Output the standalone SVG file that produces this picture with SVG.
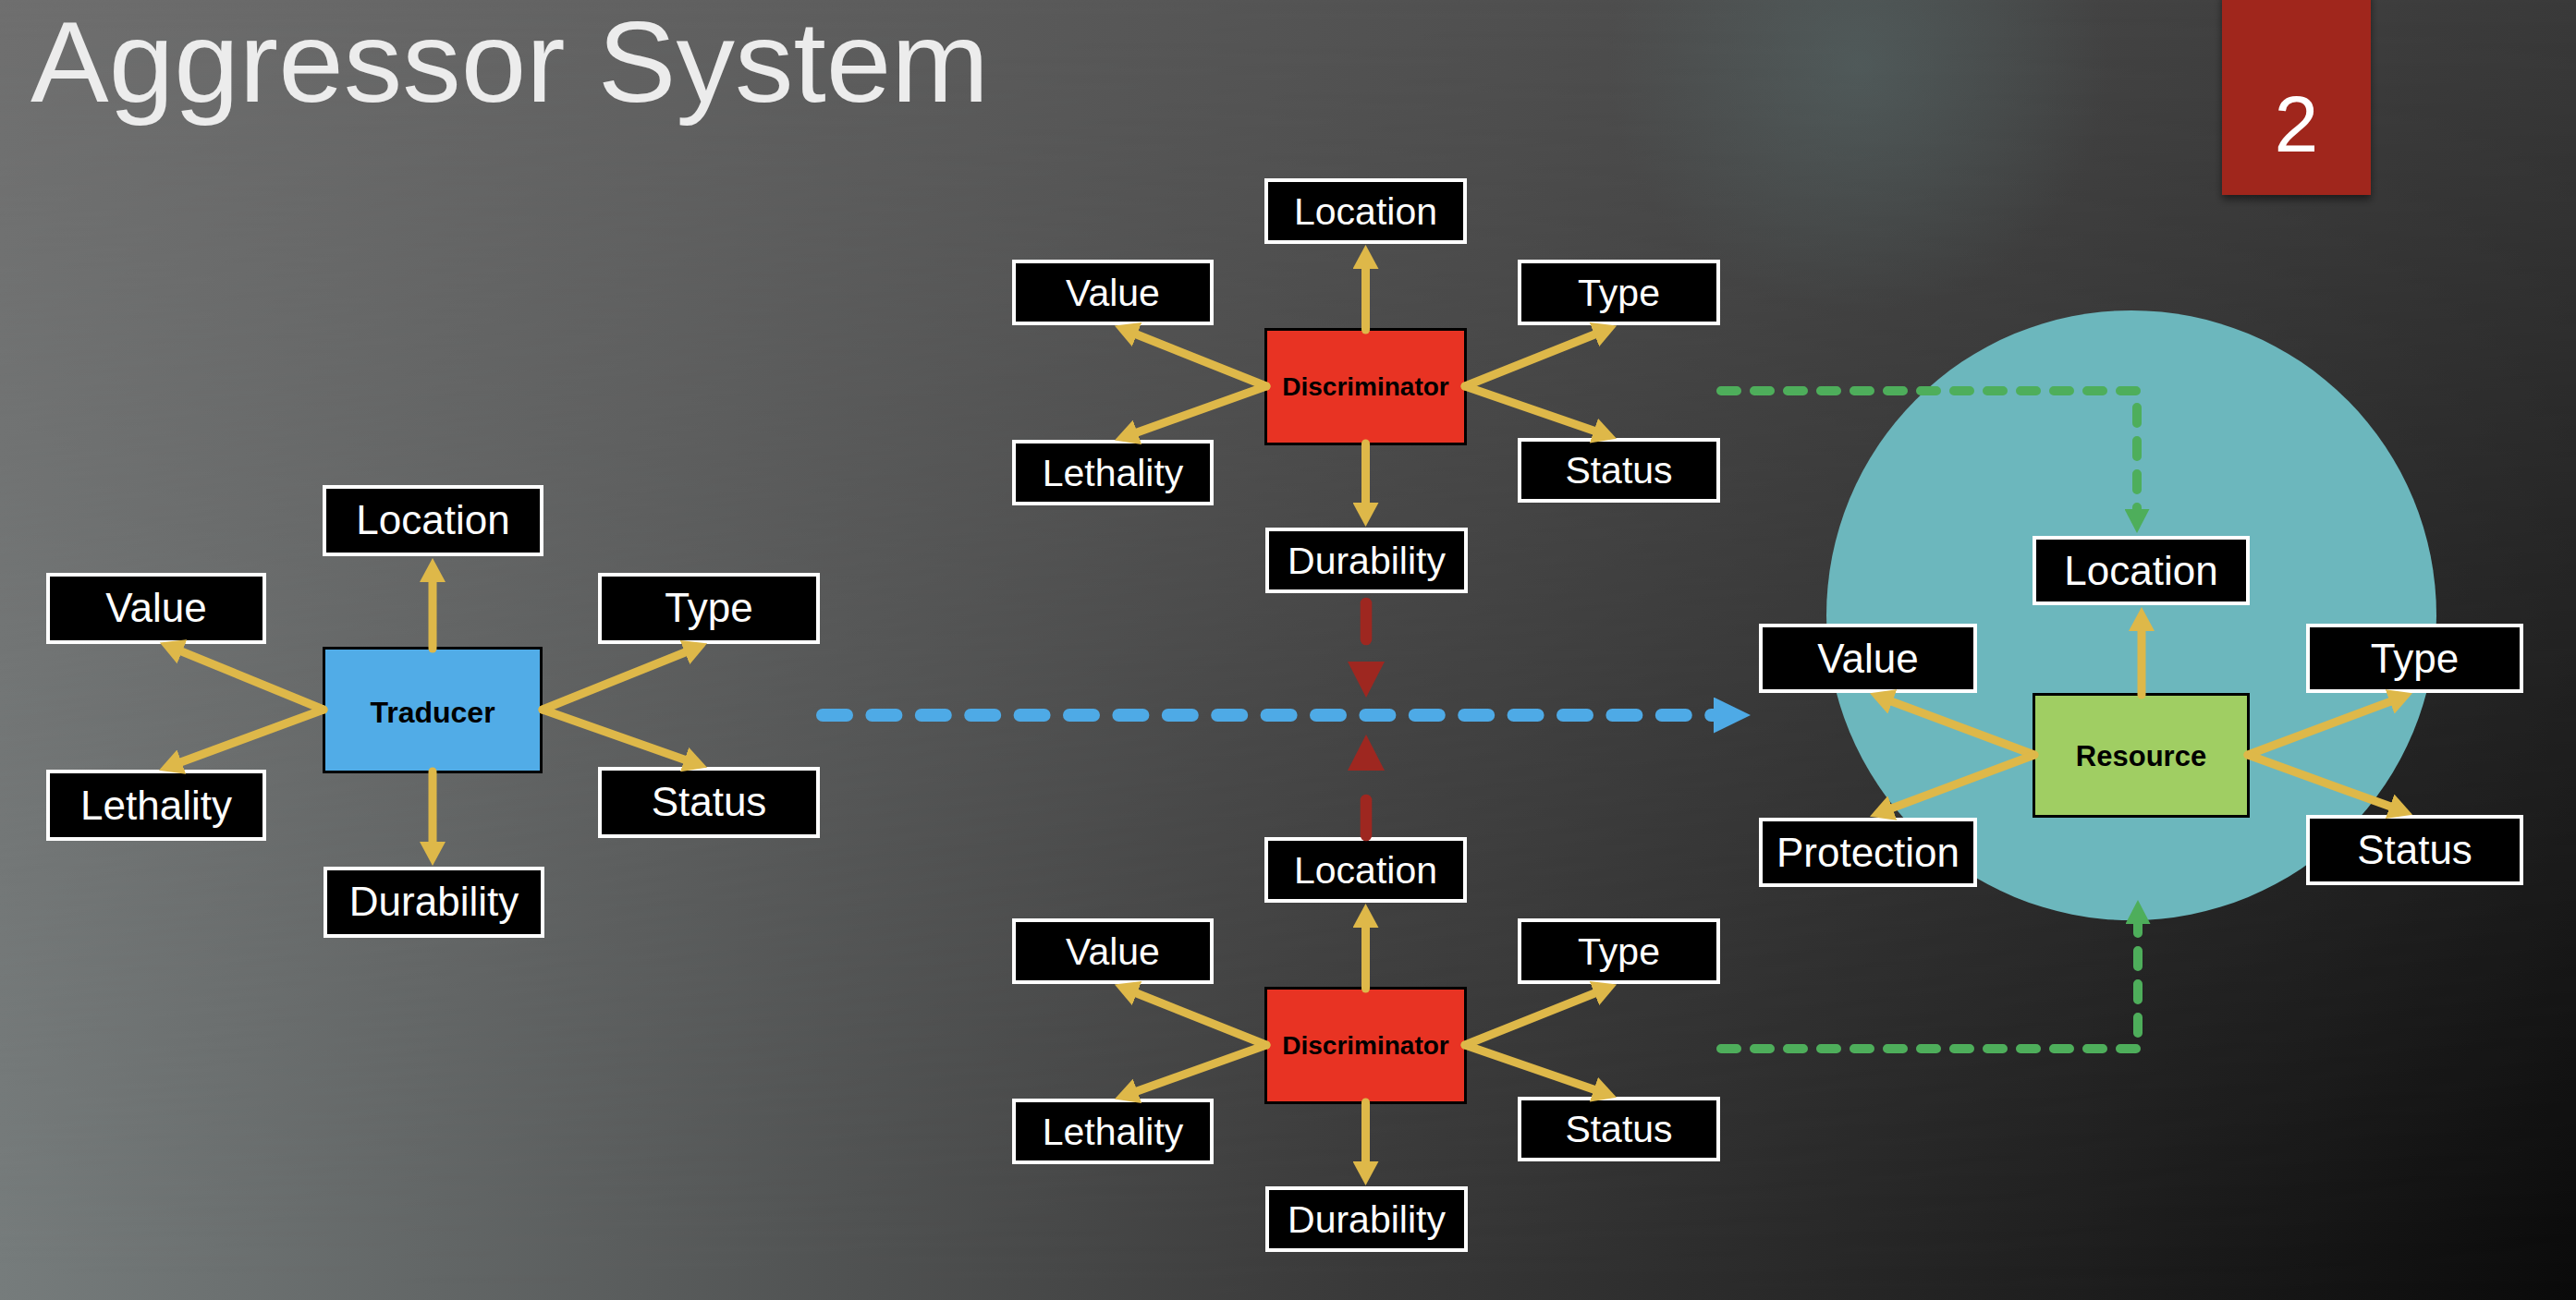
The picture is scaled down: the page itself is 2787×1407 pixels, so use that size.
<svg xmlns="http://www.w3.org/2000/svg" width="2787" height="1407" viewBox="0 0 2787 1407">
<defs>
<linearGradient id="gTop" x1="0" y1="0" x2="1" y2="0">
<stop offset="0" stop-color="#6f6f6f"/>
<stop offset="1" stop-color="#3a3a3a"/>
</linearGradient>
<linearGradient id="gBot" x1="0" y1="0" x2="1" y2="0">
<stop offset="0" stop-color="#767c7c"/>
<stop offset="0.5" stop-color="#3c3c3c"/>
<stop offset="1" stop-color="#0a0a0a"/>
</linearGradient>
<linearGradient id="gV" x1="0" y1="0" x2="0" y2="1">
<stop offset="0" stop-color="#000"/>
<stop offset="1" stop-color="#fff"/>
</linearGradient>
<mask id="mV"><rect width="2787" height="1407" fill="url(#gV)"/></mask>
<radialGradient id="glow" cx="0.5" cy="0.5" r="0.5">
<stop offset="0" stop-color="#5a7070" stop-opacity="0.45"/>
<stop offset="1" stop-color="#5a7070" stop-opacity="0"/>
</radialGradient>
<filter id="sh" x="-20%" y="-20%" width="140%" height="140%">
<feDropShadow dx="0" dy="5" stdDeviation="4" flood-color="#000" flood-opacity="0.5"/>
</filter>
<marker id="ay" viewBox="0 0 26 28" refX="1" refY="14" markerWidth="26" markerHeight="28" markerUnits="userSpaceOnUse" orient="auto">
<path d="M0,0 L26,14 L0,28 z" fill="#DEB849"/>
</marker>
<marker id="ag" viewBox="0 0 26 27" refX="1" refY="13.5" markerWidth="26" markerHeight="27" markerUnits="userSpaceOnUse" orient="auto">
<path d="M0,0 L26,13.5 L0,27 z" fill="#4EAE5B"/>
</marker>
<marker id="ar" viewBox="0 0 39 40" refX="1" refY="20" markerWidth="39" markerHeight="40" markerUnits="userSpaceOnUse" orient="auto">
<path d="M0,0 L39,20 L0,40 z" fill="#9E2720"/>
</marker>
<marker id="ab" viewBox="0 0 40 39" refX="1" refY="19.5" markerWidth="40" markerHeight="39" markerUnits="userSpaceOnUse" orient="auto">
<path d="M0,0 L40,19.5 L0,39 z" fill="#4EAAE6"/>
</marker>
</defs>
<style>
.box{fill:#000;stroke:#fff;stroke-width:4}
.lbl{fill:#fff;font-family:"Liberation Sans",Arial,sans-serif;font-size:44px;text-anchor:middle}
.sm{font-size:41px}
.ctr{fill:#000;font-family:"Liberation Sans",Arial,sans-serif;font-weight:bold;text-anchor:middle}
.cbox{stroke:#000;stroke-width:3}
.y{fill:none;stroke:#DEB849;stroke-width:9;stroke-linecap:round;marker-end:url(#ay)}
.g{fill:none;stroke:#4EAE5B;stroke-width:10;stroke-linecap:round;stroke-dasharray:17 19;marker-end:url(#ag)}
.r{fill:none;stroke:#9E2720;stroke-width:12.6;stroke-linecap:round;marker-end:url(#ar)}
.b{fill:none;stroke:#4EAAE6;stroke-width:14;stroke-linecap:round;stroke-dasharray:26 27.4;marker-end:url(#ab)}
</style>

<g id="background">
<rect width="2787" height="1407" fill="url(#gTop)"/>
<rect width="2787" height="1407" fill="url(#gBot)" mask="url(#mV)"/>
<circle cx="2010" cy="70" r="270" fill="url(#glow)"/>
</g>

<g id="title">
<text x="33" y="110" font-family="'Liberation Sans',Arial,sans-serif" font-size="124" fill="#ECECEC" textLength="1037" lengthAdjust="spacingAndGlyphs">Aggressor System</text>
</g>

<g id="page-number">
<rect x="2404" y="-10" width="161" height="221" fill="#A0281F" filter="url(#sh)"/>
<text x="2484.5" y="164" font-family="'Liberation Sans',Arial,sans-serif" font-size="86" fill="#fff" text-anchor="middle">2</text>
</g>

<circle id="resource-zone" cx="2306" cy="666" r="330" fill="#6CB7BD"/>

<!-- Traducer group -->
<g id="traducer">
<rect class="cbox" x="350.5" y="701.5" width="235" height="134" fill="#51ACE7"/>
<text class="ctr" x="468" y="782" font-size="32">Traducer</text>
</g>
<g id="t-location"><rect class="box" x="351" y="527" width="235" height="73"/><text class="lbl" x="468.5" y="578">Location</text></g>
<g id="t-value"><rect class="box" x="52" y="622" width="234" height="73"/><text class="lbl" x="169" y="673">Value</text></g>
<g id="t-type"><rect class="box" x="649" y="622" width="236" height="73"/><text class="lbl" x="767" y="673">Type</text></g>
<g id="t-lethality"><rect class="box" x="52" y="835" width="234" height="73"/><text class="lbl" x="169" y="887">Lethality</text></g>
<g id="t-status"><rect class="box" x="649" y="832" width="236" height="73"/><text class="lbl" x="767" y="883">Status</text></g>
<g id="t-durability"><rect class="box" x="352" y="940" width="235" height="73"/><text class="lbl" x="469.5" y="991">Durability</text></g>

<!-- Discriminator top -->
<g id="discriminator-1">
<rect class="cbox" x="1369.5" y="356.5" width="216" height="124" fill="#E83323"/>
<text class="ctr" x="1477.5" y="428" font-size="28">Discriminator</text>
</g>
<g id="d1-location"><rect class="box" x="1370" y="195" width="215" height="67"/><text class="lbl sm" x="1477.5" y="243">Location</text></g>
<g id="d1-value"><rect class="box" x="1097" y="283" width="214" height="67"/><text class="lbl sm" x="1204" y="331">Value</text></g>
<g id="d1-type"><rect class="box" x="1644" y="283" width="215" height="67"/><text class="lbl sm" x="1751.5" y="331">Type</text></g>
<g id="d1-lethality"><rect class="box" x="1097" y="478" width="214" height="67"/><text class="lbl sm" x="1204" y="526">Lethality</text></g>
<g id="d1-status"><rect class="box" x="1644" y="476" width="215" height="66"/><text class="lbl sm" x="1751.5" y="523">Status</text></g>
<g id="d1-durability"><rect class="box" x="1371" y="573" width="215" height="67"/><text class="lbl sm" x="1478.5" y="621">Durability</text></g>

<!-- Discriminator bottom -->
<g id="discriminator-2">
<rect class="cbox" x="1369.5" y="1069.5" width="216" height="124" fill="#E83323"/>
<text class="ctr" x="1477.5" y="1141" font-size="28">Discriminator</text>
</g>
<g id="d2-location"><rect class="box" x="1370" y="908" width="215" height="67"/><text class="lbl sm" x="1477.5" y="956">Location</text></g>
<g id="d2-value"><rect class="box" x="1097" y="996" width="214" height="67"/><text class="lbl sm" x="1204" y="1044">Value</text></g>
<g id="d2-type"><rect class="box" x="1644" y="996" width="215" height="67"/><text class="lbl sm" x="1751.5" y="1044">Type</text></g>
<g id="d2-lethality"><rect class="box" x="1097" y="1191" width="214" height="67"/><text class="lbl sm" x="1204" y="1239">Lethality</text></g>
<g id="d2-status"><rect class="box" x="1644" y="1189" width="215" height="66"/><text class="lbl sm" x="1751.5" y="1236">Status</text></g>
<g id="d2-durability"><rect class="box" x="1371" y="1286" width="215" height="67"/><text class="lbl sm" x="1478.5" y="1334">Durability</text></g>

<!-- Resource group -->
<g id="resource">
<rect class="cbox" x="2200.5" y="751.5" width="232" height="132" fill="#A0CE63"/>
<text class="ctr" x="2316.5" y="829" font-size="31">Resource</text>
</g>
<g id="r-location"><rect class="box" x="2201" y="582" width="231" height="71"/><text class="lbl" x="2316.5" y="633">Location</text></g>
<g id="r-value"><rect class="box" x="1905" y="677" width="232" height="71"/><text class="lbl" x="2021" y="728">Value</text></g>
<g id="r-type"><rect class="box" x="2497" y="677" width="231" height="71"/><text class="lbl" x="2612.5" y="728">Type</text></g>
<g id="r-protection"><rect class="box" x="1905" y="887" width="232" height="71"/><text class="lbl" x="2021" y="938">Protection</text></g>
<g id="r-status"><rect class="box" x="2497" y="884" width="231" height="72"/><text class="lbl" x="2612.5" y="935">Status</text></g>

<g id="connectors">
<path class="y" d="M350,768 L196,704.9"/>
<path class="y" d="M350,768 L195.4,825"/>
<path class="y" d="M587,768 L741.9,705.7"/>
<path class="y" d="M587,768 L741.5,822.4"/>
<path class="y" d="M468,702 L468,629"/>
<path class="y" d="M468,835 L468,912"/>

<path class="y" d="M1370,418 L1229.1,361.7"/>
<path class="y" d="M1370,418 L1229.5,468.2"/>
<path class="y" d="M1585,418 L1725.9,361.7"/>
<path class="y" d="M1585,418 L1725.4,466.5"/>
<path class="y" d="M1477.5,357 L1477.5,290"/>
<path class="y" d="M1477.5,480 L1477.5,545"/>

<path class="y" d="M1370,1131 L1229.1,1074.7"/>
<path class="y" d="M1370,1131 L1229.5,1181.2"/>
<path class="y" d="M1585,1131 L1725.9,1074.7"/>
<path class="y" d="M1585,1131 L1725.4,1179.5"/>
<path class="y" d="M1477.5,1070 L1477.5,1003"/>
<path class="y" d="M1477.5,1193 L1477.5,1258"/>

<path class="y" d="M2201,817 L2046.4,759.1"/>
<path class="y" d="M2201,817 L2046.4,874.9"/>
<path class="y" d="M2432,817 L2586.6,759.1"/>
<path class="y" d="M2432,817 L2586.6,873.1"/>
<path class="y" d="M2317,752 L2317,682"/>

<path class="r" d="M1478,653 V717" stroke-dasharray="39 200"/>
<path class="r" d="M1478,904 V833" stroke-dasharray="38 200"/>

<path class="b" d="M890,774 H1855"/>

<path class="g" d="M1862,423 H2312 V552"/>
<path class="g" d="M1862,1135 H2313 V999"/>
</g>
</svg>
